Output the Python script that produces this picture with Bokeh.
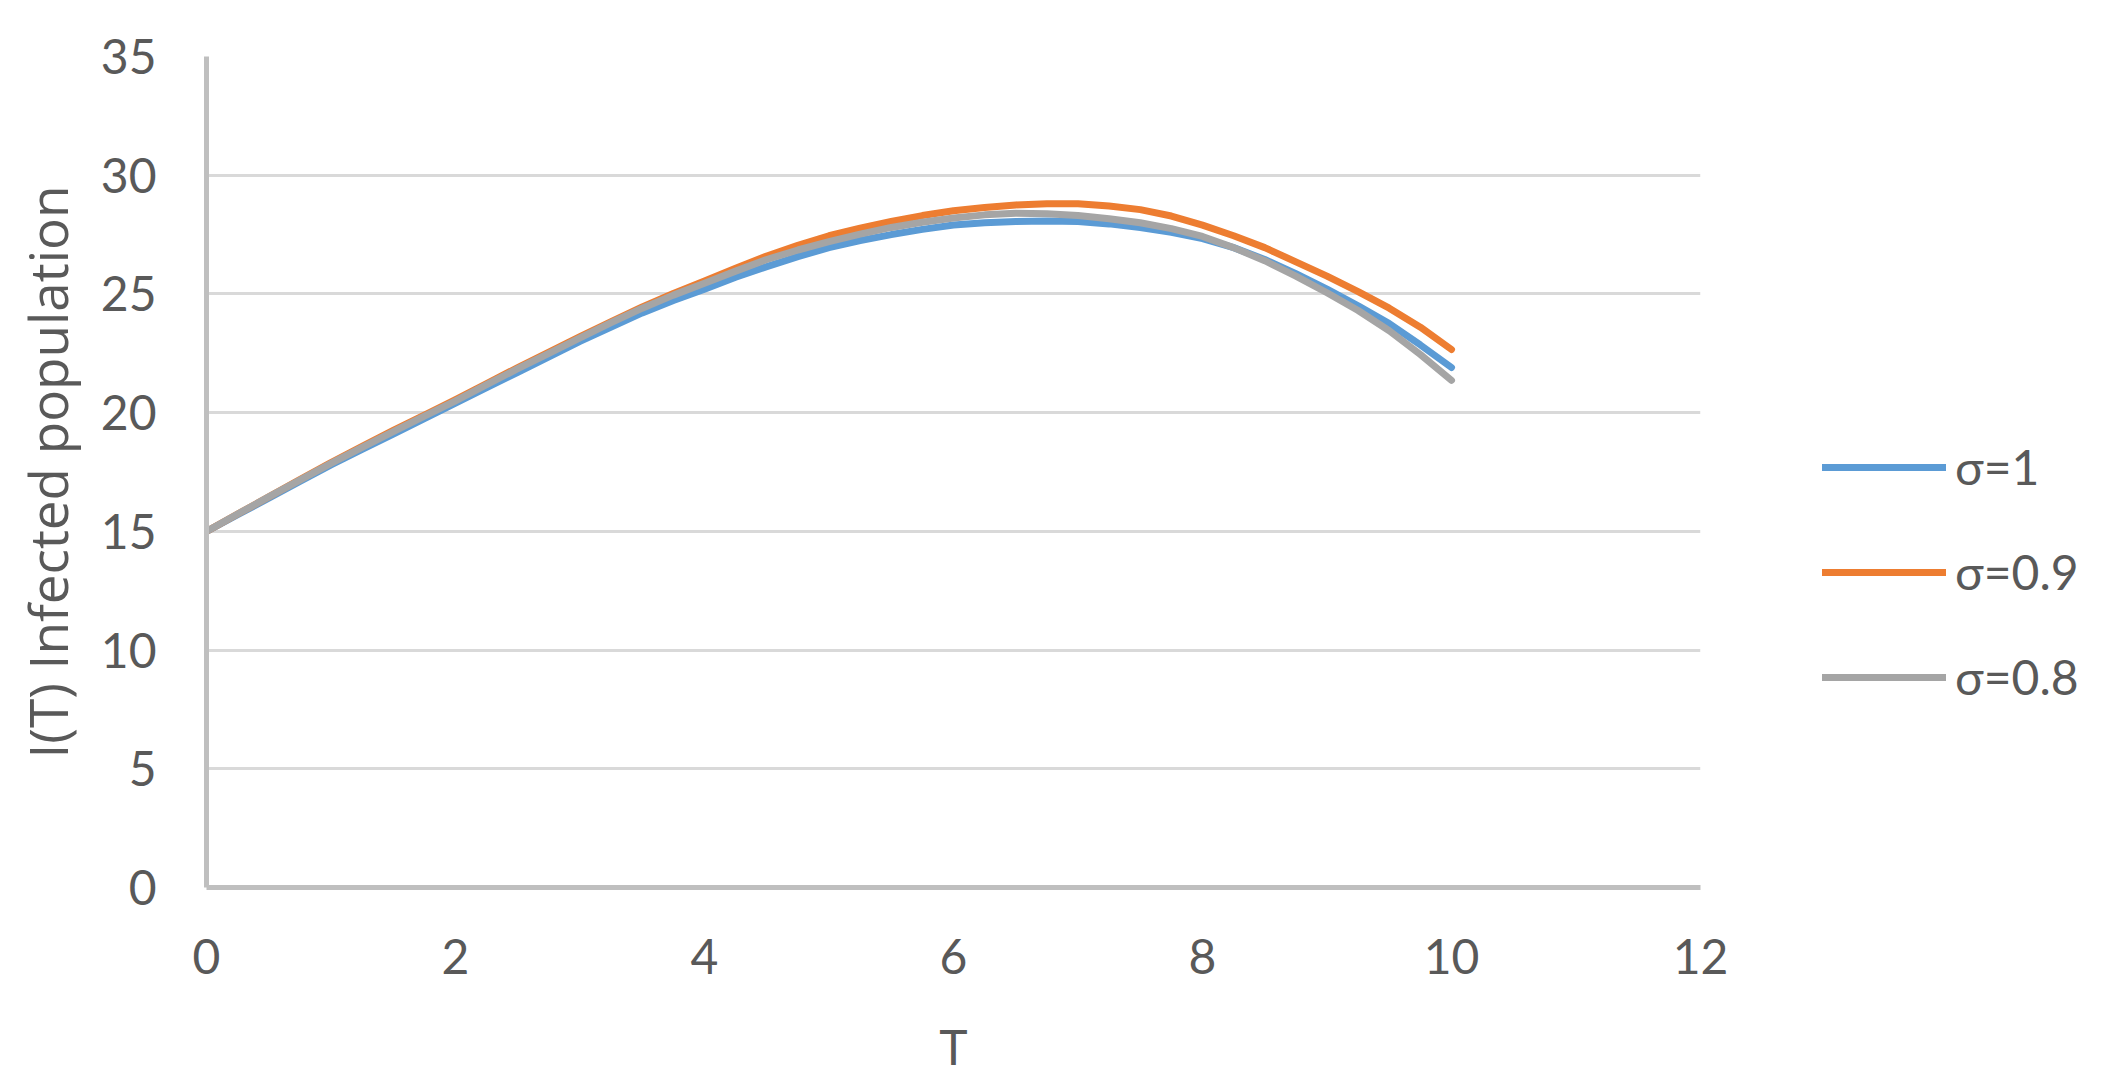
from bokeh.plotting import figure
from bokeh.models import Range1d, FixedTicker, Legend, LegendItem
from bokeh.embed import file_html
from bokeh.resources import INLINE

# ---- data ----
t = [0, 0.25, 0.5, 0.75, 1, 1.25, 1.5, 1.75, 2, 2.25, 2.5, 2.75, 3, 3.25, 3.5, 3.75,
     4, 4.25, 4.5, 4.75, 5, 5.25, 5.5, 5.75, 6, 6.25, 6.5, 6.75, 7, 7.25, 7.5, 7.75,
     8, 8.25, 8.5, 8.75, 9, 9.25, 9.5, 9.75, 10]
sigma_1 = [15.0, 15.7, 16.4, 17.1, 17.8, 18.45, 19.1, 19.75, 20.4, 21.05, 21.7, 22.35,
           23.0, 23.6, 24.2, 24.72, 25.2, 25.7, 26.15, 26.57, 26.95, 27.25, 27.5, 27.72,
           27.9, 28.0, 28.05, 28.07, 28.05, 27.95, 27.8, 27.6, 27.33, 26.95, 26.45, 25.85,
           25.2, 24.5, 23.75, 22.85, 21.9]
sigma_09 = [15.0, 15.73, 16.45, 17.18, 17.9, 18.58, 19.25, 19.9, 20.55, 21.22, 21.9, 22.55,
            23.2, 23.83, 24.45, 25.02, 25.55, 26.08, 26.6, 27.05, 27.45, 27.77, 28.05, 28.3,
            28.5, 28.64, 28.75, 28.8, 28.8, 28.7, 28.55, 28.28, 27.9, 27.45, 26.95, 26.35,
            25.75, 25.1, 24.4, 23.6, 22.66]
sigma_08 = [15.0, 15.73, 16.45, 17.16, 17.86, 18.54, 19.2, 19.85, 20.5, 21.18, 21.85, 22.5,
            23.15, 23.79, 24.4, 24.95, 25.45, 25.96, 26.45, 26.85, 27.2, 27.52, 27.8, 28.02,
            28.2, 28.33, 28.4, 28.38, 28.3, 28.17, 28.0, 27.75, 27.42, 26.95, 26.4, 25.75,
            25.05, 24.3, 23.45, 22.45, 21.36]
series_names = ["σ=1", "σ=0.9", "σ=0.8"]
series_colors = ["#5B9BD5", "#ED7D31", "#A5A5A5"]
x_ticks = [0, 2, 4, 6, 8, 10, 12]
y_ticks = [0, 5, 10, 15, 20, 25, 30, 35]

FONT = "Lato"
TXT = "#595959"
FS = "48px"

p = figure(frame_width=1494, frame_height=831, output_backend="svg", toolbar_location=None,
           x_range=Range1d(0, 12), y_range=Range1d(0, 35),
           min_border_left=206, min_border_right=140, min_border_top=56, min_border_bottom=190)
p.outline_line_color = None
p.background_fill_color = "white"

renderers = []
for ys, c in zip([sigma_1, sigma_09, sigma_08], series_colors):
    r = p.line(t, ys, line_color=c, line_width=7, line_cap="round", line_join="round")
    renderers.append(r)

# axes
for ax in (p.xaxis[0], p.yaxis[0]):
    ax.axis_line_color = "#BFBFBF"
    ax.axis_line_width = 5
    ax.major_tick_line_color = None
    ax.minor_tick_line_color = None
    ax.major_label_text_font = FONT
    ax.major_label_text_font_size = FS
    ax.major_label_text_color = TXT
    ax.axis_label_text_font = FONT
    ax.axis_label_text_font_size = FS
    ax.axis_label_text_color = TXT
    ax.axis_label_text_font_style = "normal"
    ax.major_tick_out = 0
    ax.major_tick_in = 0

p.xaxis.ticker = FixedTicker(ticks=x_ticks)
p.yaxis.ticker = FixedTicker(ticks=y_ticks)
p.xaxis.axis_label = "T"
p.yaxis.axis_label = "I(T) Infected population"
p.yaxis.axis_label_text_font = "Open Sans"
p.yaxis.axis_label_text_font_size = "53px"
p.xaxis.major_label_standoff = 51
p.xaxis.axis_label_standoff = 41
p.yaxis.major_label_standoff = 50
p.yaxis.axis_label_standoff = 14

p.xgrid.grid_line_color = None
p.ygrid.grid_line_color = "#D9D9D9"
p.ygrid.grid_line_width = 3

legend = Legend(items=[LegendItem(label=n, renderers=[r]) for n, r in zip(series_names, renderers)],
                location=(122, 182))
legend.label_text_font = FONT
legend.label_text_font_size = FS
legend.label_text_color = TXT
legend.glyph_width = 124
legend.glyph_height = 48
legend.label_height = 48
legend.label_standoff = 9
legend.spacing = 48
legend.padding = 0
legend.margin = 0
legend.border_line_color = None
legend.background_fill_alpha = 0
p.add_layout(legend, "right")

open("out.html", "w").write(file_html(p, INLINE))
